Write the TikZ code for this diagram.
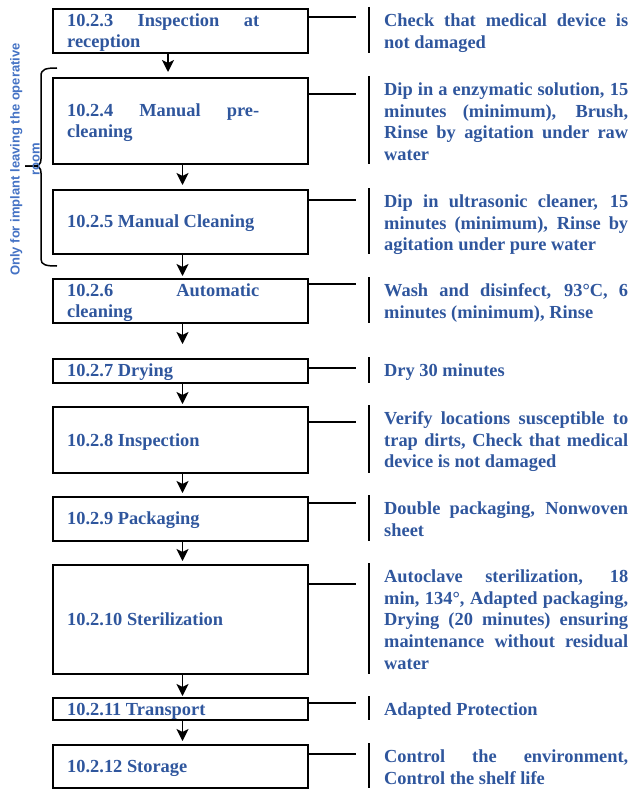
\documentclass[tikz,border=0pt]{standalone}
\usepackage{fontspec}
\setmainfont{Liberation Serif}
\newfontfamily\sidefont{Liberation Sans}
\usetikzlibrary{arrows.meta,calc}
\definecolor{txtblue}{RGB}{47,86,157}
\definecolor{sideblue}{RGB}{68,114,196}
\newcommand\lstrut{\rule[-4pt]{0pt}{20pt}}
\newcommand\rstrut{\rule{0pt}{14pt}}
\tolerance=10000
\hyphenpenalty=10000
\begin{document}
\begin{tikzpicture}[x=1pt,y=-1pt,
  box/.style={draw, line width=2pt, minimum width=255pt, inner sep=0pt},
  ltext/.style={anchor=west, inner sep=0pt, text width=192pt, align=justify, text=txtblue,
    font=\bfseries\fontsize{18.4}{21.6}\selectfont},
  rtext/.style={anchor=north west, inner sep=0pt, text width=244pt, align=justify, text=txtblue,
    font=\bfseries\fontsize{18.4}{21.6}\selectfont},
  arr/.style={line width=1.5pt, -{Stealth[length=12pt,width=12pt,inset=3pt]}},
  hline/.style={line width=1.2pt},
  vbar/.style={line width=2pt},
  brace/.style={line width=1.5pt},
  sidetext/.style={rotate=90, align=center, inner sep=0pt, text=sideblue,
    font=\sidefont\bfseries\fontsize{13}{20}\selectfont}
]
\useasboundingbox (0,0) rectangle (628,789);

% reference coordinates
\coordinate (ax1) at (168,0);
\coordinate (ax) at (182.5,0);
\coordinate (barx) at (369,0);
\coordinate (rx) at (384,0);

% boxes
\node[box, minimum height=44pt]  (b1)  at (180.5,31)    {};
\node[box, minimum height=86pt]  (b2)  at (180.5,121)   {};
\node[box, minimum height=64pt]  (b3)  at (180.5,222)   {};
\node[box, minimum height=44pt]  (b4)  at (180.5,301)   {};
\node[box, minimum height=24pt]  (b5)  at (180.5,371)   {};
\node[box, minimum height=66pt]  (b6)  at (180.5,440)   {};
\node[box, minimum height=44pt]  (b7)  at (180.5,519)   {};
\node[box, minimum height=109pt] (b8)  at (180.5,619.5) {};
\node[box, minimum height=22pt]  (b9)  at (180.5,709)   {};
\node[box, minimum height=43pt]  (b10) at (180.5,766.5) {};

% box texts
\node[ltext] (t1)  at ($(b1.west)+(15,0)$)  {\lstrut 10.2.3 Inspection at\linebreak reception\lstrut};
\node[ltext] (t2)  at ($(b2.west)+(15,0)$)  {\lstrut 10.2.4 Manual pre-\linebreak cleaning\lstrut};
\node[ltext] (t3)  at ($(b3.west)+(15,0)$)  {\lstrut 10.2.5 Manual Cleaning\lstrut};
\node[ltext] (t4)  at ($(b4.west)+(15,0)$)  {\lstrut 10.2.6 Automatic\linebreak cleaning\lstrut};
\node[ltext] (t5)  at ($(b5.west)+(15,0)$)  {\lstrut 10.2.7 Drying\lstrut};
\node[ltext] (t6)  at ($(b6.west)+(15,0)$)  {\lstrut 10.2.8 Inspection\lstrut};
\node[ltext] (t7)  at ($(b7.west)+(15,0)$)  {\lstrut 10.2.9 Packaging\lstrut};
\node[ltext] (t8)  at ($(b8.west)+(15,0)$)  {\lstrut 10.2.10 Sterilization\lstrut};
\node[ltext] (t9)  at ($(b9.west)+(15,0)$)  {\lstrut 10.2.11 Transport\lstrut};
\node[ltext] (t10) at ($(b10.west)+(15,0)$) {\lstrut 10.2.12 Storage\lstrut};

% arrows
\draw[arr, shorten >=5pt]  (b1.south -| ax1) -- (b2.north -| ax1);
\draw[arr, shorten >=4pt]  (b2.south -| ax) -- (b3.north -| ax);
\draw[arr, shorten >=2pt]  (b3.south -| ax) -- (b4.north -| ax);
\draw[arr, shorten >=14pt] (b4.south -| ax) -- (b5.north -| ax);
\draw[arr, shorten >=2pt]  (b5.south -| ax) -- (b6.north -| ax);
\draw[arr, shorten >=3pt]  (b6.south -| ax) -- (b7.north -| ax);
\draw[arr, shorten >=3pt]  (b7.south -| ax) -- (b8.north -| ax);
\draw[arr, shorten >=1pt]  (b8.south -| ax) -- (b9.north -| ax);
\draw[arr, shorten >=3pt]  (b9.south -| ax) -- (b10.north -| ax);

% connector stubs
\coordinate (h1)  at (356,17);
\coordinate (h2)  at (356,94);
\coordinate (h3)  at (356,200);
\coordinate (h4)  at (356,284);
\coordinate (h5)  at (356,368);
\coordinate (h6)  at (356,422);
\coordinate (h7)  at (356,503);
\coordinate (h8)  at (356,584);
\coordinate (h9)  at (356,703);
\coordinate (h10) at (356,754);
\foreach \i in {1,...,10}{
  \draw[hline] (h\i -| b\i.east) -- (h\i);
  \draw[vbar] ($(b\i.north -| barx)+(0,-1)$) -- ($(b\i.south -| barx)+(0,-1)$);
}

% right-hand descriptions
\node[rtext] (r1)  at ($(b1.north -| rx)+(0,4.5)$)  {\rstrut Check that medical device is\linebreak not damaged};
\node[rtext] (r2)  at ($(b2.north -| rx)+(0,4.5)$)  {\rstrut Dip in a enzymatic solution, 15\linebreak minutes (minimum), Brush,\linebreak Rinse by agitation under raw\linebreak water};
\node[rtext] (r3)  at ($(b3.north -| rx)+(0,4.5)$)  {\rstrut Dip in ultrasonic cleaner, 15\linebreak minutes (minimum), Rinse by\linebreak agitation under pure water};
\node[rtext] (r4)  at ($(b4.north -| rx)+(0,4.5)$)  {\rstrut Wash and disinfect, 93°C, 6\linebreak minutes (minimum), Rinse};
\node[rtext] (r5)  at ($(b5.north -| rx)+(0,4.5)$)  {\rstrut Dry 30 minutes};
\node[rtext] (r6)  at ($(b6.north -| rx)+(0,4.5)$)  {\rstrut Verify locations susceptible to\linebreak trap dirts, Check that medical\linebreak device is not damaged};
\node[rtext] (r7)  at ($(b7.north -| rx)+(0,4.5)$)  {\rstrut Double packaging, Nonwoven\linebreak sheet};
\node[rtext] (r8)  at ($(b8.north -| rx)+(0,4.5)$)  {\rstrut Autoclave sterilization, 18\linebreak min, 134°, Adapted packaging,\linebreak Drying (20 minutes) ensuring\linebreak maintenance without residual\linebreak water};
\node[rtext] (r9)  at ($(b9.north -| rx)+(0,4.5)$)  {\rstrut Adapted Protection};
\node[rtext] (r10) at ($(b10.north -| rx)+(0,4.5)$) {\rstrut Control the environment,\linebreak Control the shelf life};

% brace and side label
\draw[brace] (57,68) .. controls (46,68) and (41,69) .. (41,76) -- (41,159)
  .. controls (41,164) and (39,166) .. (33,166) -- (25,166);
\draw[brace] (25,166) -- (33,166) .. controls (39,166) and (41,168) .. (41,173) -- (41,259)
  .. controls (41,265) and (46,266) .. (57,266);
\node[sidetext] (side) at (25,159.5) {Only for implant leaving the operative\\room};
\end{tikzpicture}
\end{document}
